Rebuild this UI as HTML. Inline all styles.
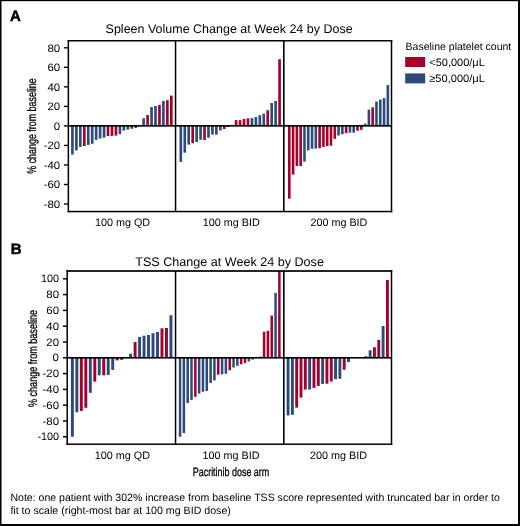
<!DOCTYPE html><html><head><meta charset="utf-8"><style>
html,body{margin:0;padding:0;background:#fff;}
svg{display:block;will-change:transform;}
text{font-family:"Liberation Sans",sans-serif;fill:#000;text-rendering:geometricPrecision;}
</style></head><body>
<svg width="520" height="526" viewBox="0 0 520 526">
<rect x="0" y="0" width="520" height="526" fill="#fff"/>
<text x="9.9" y="20.6" font-size="15.0" font-weight="bold" stroke="#000" stroke-width="0.5">A</text>
<text x="10.7" y="253.6" font-size="15.0" font-weight="bold" stroke="#000" stroke-width="0.5">B</text>
<text x="229.1" y="33.4" font-size="12.5" text-anchor="middle" textLength="247" lengthAdjust="spacingAndGlyphs">Spleen Volume Change at Week 24 by Dose</text>
<text x="229.6" y="266.1" font-size="12.5" text-anchor="middle" textLength="188.6" lengthAdjust="spacingAndGlyphs">TSS Change at Week 24 by Dose</text>
<rect x="71.10" y="125.90" width="2.65" height="28.60" fill="#2D4A7D"/>
<rect x="75.06" y="125.90" width="2.65" height="24.50" fill="#2D4A7D"/>
<rect x="79.01" y="125.90" width="2.65" height="21.00" fill="#2D4A7D"/>
<rect x="82.97" y="125.90" width="2.65" height="20.10" fill="#A3002B"/>
<rect x="86.92" y="125.90" width="2.65" height="19.00" fill="#2D4A7D"/>
<rect x="90.88" y="125.90" width="2.65" height="17.90" fill="#2D4A7D"/>
<rect x="94.84" y="125.90" width="2.65" height="13.90" fill="#2D4A7D"/>
<rect x="98.79" y="125.90" width="2.65" height="12.60" fill="#2D4A7D"/>
<rect x="102.75" y="125.90" width="2.65" height="11.80" fill="#2D4A7D"/>
<rect x="106.70" y="125.90" width="2.65" height="10.10" fill="#A3002B"/>
<rect x="110.66" y="125.90" width="2.65" height="10.00" fill="#A3002B"/>
<rect x="114.62" y="125.90" width="2.65" height="9.70" fill="#A3002B"/>
<rect x="118.57" y="125.90" width="2.65" height="8.20" fill="#2D4A7D"/>
<rect x="122.53" y="125.90" width="2.65" height="4.70" fill="#2D4A7D"/>
<rect x="126.48" y="125.90" width="2.65" height="3.70" fill="#2D4A7D"/>
<rect x="130.44" y="125.90" width="2.65" height="2.80" fill="#A3002B"/>
<rect x="134.40" y="125.90" width="2.65" height="2.20" fill="#2D4A7D"/>
<rect x="142.31" y="118.30" width="2.65" height="7.60" fill="#2D4A7D"/>
<rect x="146.26" y="115.00" width="2.65" height="10.90" fill="#A3002B"/>
<rect x="150.22" y="107.00" width="2.65" height="18.90" fill="#2D4A7D"/>
<rect x="154.18" y="106.00" width="2.65" height="19.90" fill="#2D4A7D"/>
<rect x="158.13" y="104.90" width="2.65" height="21.00" fill="#A3002B"/>
<rect x="162.09" y="100.90" width="2.65" height="25.00" fill="#2D4A7D"/>
<rect x="166.04" y="100.20" width="2.65" height="25.70" fill="#A3002B"/>
<rect x="170.00" y="95.60" width="2.65" height="30.30" fill="#A3002B"/>
<rect x="179.50" y="125.90" width="2.65" height="36.00" fill="#2D4A7D"/>
<rect x="183.45" y="125.90" width="2.65" height="26.80" fill="#2D4A7D"/>
<rect x="187.40" y="125.90" width="2.65" height="18.70" fill="#2D4A7D"/>
<rect x="191.35" y="125.90" width="2.65" height="17.30" fill="#A3002B"/>
<rect x="195.30" y="125.90" width="2.65" height="16.20" fill="#2D4A7D"/>
<rect x="199.25" y="125.90" width="2.65" height="13.90" fill="#2D4A7D"/>
<rect x="203.20" y="125.90" width="2.65" height="14.10" fill="#A3002B"/>
<rect x="207.15" y="125.90" width="2.65" height="11.80" fill="#2D4A7D"/>
<rect x="211.10" y="125.90" width="2.65" height="8.70" fill="#2D4A7D"/>
<rect x="215.05" y="125.90" width="2.65" height="8.70" fill="#2D4A7D"/>
<rect x="219.00" y="125.90" width="2.65" height="4.60" fill="#2D4A7D"/>
<rect x="222.95" y="125.90" width="2.65" height="3.10" fill="#A3002B"/>
<rect x="226.90" y="125.90" width="2.65" height="1.10" fill="#A3002B"/>
<rect x="234.80" y="120.10" width="2.65" height="5.80" fill="#A3002B"/>
<rect x="238.75" y="120.10" width="2.65" height="5.80" fill="#A3002B"/>
<rect x="242.70" y="119.00" width="2.65" height="6.90" fill="#A3002B"/>
<rect x="246.65" y="118.30" width="2.65" height="7.60" fill="#A3002B"/>
<rect x="250.60" y="118.10" width="2.65" height="7.80" fill="#2D4A7D"/>
<rect x="254.55" y="117.10" width="2.65" height="8.80" fill="#2D4A7D"/>
<rect x="258.50" y="115.20" width="2.65" height="10.70" fill="#2D4A7D"/>
<rect x="262.45" y="113.70" width="2.65" height="12.20" fill="#2D4A7D"/>
<rect x="266.40" y="110.20" width="2.65" height="15.70" fill="#A3002B"/>
<rect x="270.35" y="103.00" width="2.65" height="22.90" fill="#2D4A7D"/>
<rect x="274.30" y="101.00" width="2.65" height="24.90" fill="#2D4A7D"/>
<rect x="278.25" y="59.20" width="2.65" height="66.70" fill="#A3002B"/>
<rect x="288.00" y="125.90" width="2.60" height="72.80" fill="#A3002B"/>
<rect x="291.79" y="125.90" width="2.60" height="48.70" fill="#A3002B"/>
<rect x="295.58" y="125.90" width="2.60" height="40.10" fill="#A3002B"/>
<rect x="299.37" y="125.90" width="2.60" height="40.10" fill="#A3002B"/>
<rect x="303.16" y="125.90" width="2.60" height="35.70" fill="#2D4A7D"/>
<rect x="306.95" y="125.90" width="2.60" height="24.50" fill="#2D4A7D"/>
<rect x="310.74" y="125.90" width="2.60" height="22.90" fill="#2D4A7D"/>
<rect x="314.53" y="125.90" width="2.60" height="22.70" fill="#2D4A7D"/>
<rect x="318.32" y="125.90" width="2.60" height="22.30" fill="#A3002B"/>
<rect x="322.11" y="125.90" width="2.60" height="21.10" fill="#A3002B"/>
<rect x="325.90" y="125.90" width="2.60" height="20.20" fill="#A3002B"/>
<rect x="329.69" y="125.90" width="2.60" height="19.80" fill="#A3002B"/>
<rect x="333.48" y="125.90" width="2.60" height="12.90" fill="#A3002B"/>
<rect x="337.27" y="125.90" width="2.60" height="9.60" fill="#2D4A7D"/>
<rect x="341.06" y="125.90" width="2.60" height="8.30" fill="#2D4A7D"/>
<rect x="344.85" y="125.90" width="2.60" height="7.30" fill="#A3002B"/>
<rect x="348.64" y="125.90" width="2.60" height="6.80" fill="#2D4A7D"/>
<rect x="352.43" y="125.90" width="2.60" height="6.80" fill="#2D4A7D"/>
<rect x="356.22" y="125.90" width="2.60" height="4.80" fill="#A3002B"/>
<rect x="360.01" y="125.90" width="2.60" height="3.90" fill="#A3002B"/>
<rect x="363.80" y="123.60" width="2.60" height="2.30" fill="#2D4A7D"/>
<rect x="367.59" y="109.60" width="2.60" height="16.30" fill="#2D4A7D"/>
<rect x="371.38" y="107.30" width="2.60" height="18.60" fill="#A3002B"/>
<rect x="375.17" y="101.50" width="2.60" height="24.40" fill="#2D4A7D"/>
<rect x="378.96" y="99.60" width="2.60" height="26.30" fill="#2D4A7D"/>
<rect x="382.75" y="98.10" width="2.60" height="27.80" fill="#2D4A7D"/>
<rect x="386.54" y="85.00" width="2.60" height="40.90" fill="#2D4A7D"/>
<rect x="67.60" y="40.00" width="324.65" height="1.50" fill="#000"/>
<rect x="67.60" y="210.80" width="324.65" height="1.50" fill="#000"/>
<rect x="67.60" y="40.00" width="1.50" height="172.30" fill="#000"/>
<rect x="390.75" y="40.00" width="1.50" height="172.30" fill="#000"/>
<rect x="174.80" y="40.75" width="1.50" height="170.80" fill="#000"/>
<rect x="283.00" y="40.75" width="1.60" height="170.80" fill="#000"/>
<rect x="68.35" y="125.05" width="323.15" height="1.60" fill="#000"/>
<rect x="63.90" y="203.33" width="4.45" height="1.35" fill="#000"/>
<text transform="translate(60.2,207.75) scale(1.06,1)" font-size="10.8" text-anchor="end">-80</text>
<rect x="63.90" y="183.80" width="4.45" height="1.35" fill="#000"/>
<text transform="translate(60.2,188.23) scale(1.06,1)" font-size="10.8" text-anchor="end">-60</text>
<rect x="63.90" y="164.28" width="4.45" height="1.35" fill="#000"/>
<text transform="translate(60.2,168.70) scale(1.06,1)" font-size="10.8" text-anchor="end">-40</text>
<rect x="63.90" y="144.75" width="4.45" height="1.35" fill="#000"/>
<text transform="translate(60.2,149.18) scale(1.06,1)" font-size="10.8" text-anchor="end">-20</text>
<rect x="63.90" y="125.23" width="4.45" height="1.35" fill="#000"/>
<text transform="translate(60.2,129.65) scale(1.06,1)" font-size="10.8" text-anchor="end">0</text>
<rect x="63.90" y="105.70" width="4.45" height="1.35" fill="#000"/>
<text transform="translate(60.2,110.12) scale(1.06,1)" font-size="10.8" text-anchor="end">20</text>
<rect x="63.90" y="86.17" width="4.45" height="1.35" fill="#000"/>
<text transform="translate(60.2,90.60) scale(1.06,1)" font-size="10.8" text-anchor="end">40</text>
<rect x="63.90" y="66.65" width="4.45" height="1.35" fill="#000"/>
<text transform="translate(60.2,71.07) scale(1.06,1)" font-size="10.8" text-anchor="end">60</text>
<rect x="63.90" y="47.12" width="4.45" height="1.35" fill="#000"/>
<text transform="translate(60.2,51.55) scale(1.06,1)" font-size="10.8" text-anchor="end">80</text>
<rect x="70.90" y="357.80" width="2.95" height="79.00" fill="#2D4A7D"/>
<rect x="75.38" y="357.80" width="2.95" height="54.50" fill="#2D4A7D"/>
<rect x="79.86" y="357.80" width="2.95" height="53.20" fill="#A3002B"/>
<rect x="84.34" y="357.80" width="2.95" height="50.00" fill="#A3002B"/>
<rect x="88.82" y="357.80" width="2.95" height="35.00" fill="#2D4A7D"/>
<rect x="93.30" y="357.80" width="2.95" height="23.80" fill="#A3002B"/>
<rect x="97.78" y="357.80" width="2.95" height="17.50" fill="#2D4A7D"/>
<rect x="102.26" y="357.80" width="2.95" height="17.50" fill="#A3002B"/>
<rect x="106.74" y="357.80" width="2.95" height="17.10" fill="#2D4A7D"/>
<rect x="111.22" y="357.80" width="2.95" height="12.10" fill="#2D4A7D"/>
<rect x="115.70" y="357.80" width="2.95" height="2.60" fill="#A3002B"/>
<rect x="120.18" y="357.80" width="2.95" height="2.10" fill="#2D4A7D"/>
<rect x="129.14" y="353.70" width="2.95" height="4.10" fill="#2D4A7D"/>
<rect x="133.62" y="342.10" width="2.95" height="15.70" fill="#A3002B"/>
<rect x="138.10" y="337.00" width="2.95" height="20.80" fill="#2D4A7D"/>
<rect x="142.58" y="335.70" width="2.95" height="22.10" fill="#2D4A7D"/>
<rect x="147.06" y="335.00" width="2.95" height="22.80" fill="#2D4A7D"/>
<rect x="151.54" y="333.20" width="2.95" height="24.60" fill="#2D4A7D"/>
<rect x="156.02" y="332.00" width="2.95" height="25.80" fill="#2D4A7D"/>
<rect x="160.50" y="328.30" width="2.95" height="29.50" fill="#A3002B"/>
<rect x="164.98" y="328.00" width="2.95" height="29.80" fill="#A3002B"/>
<rect x="169.46" y="315.20" width="2.95" height="42.60" fill="#2D4A7D"/>
<rect x="178.80" y="357.80" width="2.50" height="79.00" fill="#2D4A7D"/>
<rect x="182.62" y="357.80" width="2.50" height="75.30" fill="#2D4A7D"/>
<rect x="186.44" y="357.80" width="2.50" height="45.30" fill="#2D4A7D"/>
<rect x="190.26" y="357.80" width="2.50" height="42.10" fill="#2D4A7D"/>
<rect x="194.08" y="357.80" width="2.50" height="39.00" fill="#A3002B"/>
<rect x="197.90" y="357.80" width="2.50" height="35.80" fill="#2D4A7D"/>
<rect x="201.72" y="357.80" width="2.50" height="34.00" fill="#2D4A7D"/>
<rect x="205.54" y="357.80" width="2.50" height="33.20" fill="#2D4A7D"/>
<rect x="209.36" y="357.80" width="2.50" height="25.30" fill="#2D4A7D"/>
<rect x="213.18" y="357.80" width="2.50" height="22.60" fill="#2D4A7D"/>
<rect x="217.00" y="357.80" width="2.50" height="16.90" fill="#A3002B"/>
<rect x="220.82" y="357.80" width="2.50" height="16.50" fill="#2D4A7D"/>
<rect x="224.64" y="357.80" width="2.50" height="16.00" fill="#2D4A7D"/>
<rect x="228.46" y="357.80" width="2.50" height="12.50" fill="#A3002B"/>
<rect x="232.28" y="357.80" width="2.50" height="9.70" fill="#2D4A7D"/>
<rect x="236.10" y="357.80" width="2.50" height="8.00" fill="#2D4A7D"/>
<rect x="239.92" y="357.80" width="2.50" height="6.50" fill="#A3002B"/>
<rect x="243.74" y="357.80" width="2.50" height="5.30" fill="#A3002B"/>
<rect x="247.56" y="357.80" width="2.50" height="3.70" fill="#2D4A7D"/>
<rect x="251.38" y="357.80" width="2.50" height="1.80" fill="#2D4A7D"/>
<rect x="259.02" y="356.70" width="2.50" height="1.10" fill="#A3002B"/>
<rect x="262.84" y="331.70" width="2.50" height="26.10" fill="#A3002B"/>
<rect x="266.66" y="330.80" width="2.50" height="27.00" fill="#A3002B"/>
<rect x="270.48" y="315.60" width="2.50" height="42.20" fill="#A3002B"/>
<rect x="274.30" y="292.90" width="2.50" height="64.90" fill="#2D4A7D"/>
<rect x="278.12" y="271.00" width="2.50" height="86.80" fill="#A3002B"/>
<rect x="286.60" y="357.80" width="2.90" height="57.60" fill="#2D4A7D"/>
<rect x="290.92" y="357.80" width="2.90" height="57.00" fill="#2D4A7D"/>
<rect x="295.24" y="357.80" width="2.90" height="49.80" fill="#A3002B"/>
<rect x="299.56" y="357.80" width="2.90" height="39.80" fill="#A3002B"/>
<rect x="303.88" y="357.80" width="2.90" height="31.70" fill="#A3002B"/>
<rect x="308.20" y="357.80" width="2.90" height="31.70" fill="#2D4A7D"/>
<rect x="312.52" y="357.80" width="2.90" height="30.10" fill="#A3002B"/>
<rect x="316.84" y="357.80" width="2.90" height="28.10" fill="#A3002B"/>
<rect x="321.16" y="357.80" width="2.90" height="26.10" fill="#2D4A7D"/>
<rect x="325.48" y="357.80" width="2.90" height="25.90" fill="#A3002B"/>
<rect x="329.80" y="357.80" width="2.90" height="23.80" fill="#A3002B"/>
<rect x="334.12" y="357.80" width="2.90" height="21.40" fill="#2D4A7D"/>
<rect x="338.44" y="357.80" width="2.90" height="21.00" fill="#2D4A7D"/>
<rect x="342.76" y="357.80" width="2.90" height="11.90" fill="#A3002B"/>
<rect x="347.08" y="357.80" width="2.90" height="4.30" fill="#2D4A7D"/>
<rect x="364.36" y="356.20" width="2.90" height="1.60" fill="#2D4A7D"/>
<rect x="368.68" y="350.30" width="2.90" height="7.50" fill="#2D4A7D"/>
<rect x="373.00" y="347.30" width="2.90" height="10.50" fill="#A3002B"/>
<rect x="377.32" y="339.90" width="2.90" height="17.90" fill="#A3002B"/>
<rect x="381.64" y="326.00" width="2.90" height="31.80" fill="#2D4A7D"/>
<rect x="385.96" y="279.90" width="2.90" height="77.90" fill="#A3002B"/>
<rect x="66.45" y="270.15" width="325.80" height="1.70" fill="#000"/>
<rect x="66.45" y="443.45" width="325.80" height="1.50" fill="#000"/>
<rect x="66.45" y="270.15" width="1.50" height="174.80" fill="#000"/>
<rect x="390.75" y="270.15" width="1.50" height="174.80" fill="#000"/>
<rect x="174.80" y="271.00" width="1.50" height="173.20" fill="#000"/>
<rect x="283.00" y="271.00" width="1.60" height="173.20" fill="#000"/>
<rect x="67.20" y="357.00" width="324.30" height="1.60" fill="#000"/>
<rect x="62.90" y="436.07" width="4.30" height="1.45" fill="#000"/>
<text transform="translate(59.0,440.30) scale(1.0,1)" font-size="10.8" text-anchor="end">-100</text>
<rect x="62.90" y="420.27" width="4.30" height="1.45" fill="#000"/>
<text transform="translate(59.0,424.50) scale(1.06,1)" font-size="10.8" text-anchor="end">-80</text>
<rect x="62.90" y="404.48" width="4.30" height="1.45" fill="#000"/>
<text transform="translate(59.0,408.70) scale(1.06,1)" font-size="10.8" text-anchor="end">-60</text>
<rect x="62.90" y="388.68" width="4.30" height="1.45" fill="#000"/>
<text transform="translate(59.0,392.90) scale(1.06,1)" font-size="10.8" text-anchor="end">-40</text>
<rect x="62.90" y="372.88" width="4.30" height="1.45" fill="#000"/>
<text transform="translate(59.0,377.10) scale(1.06,1)" font-size="10.8" text-anchor="end">-20</text>
<rect x="62.90" y="357.07" width="4.30" height="1.45" fill="#000"/>
<text transform="translate(59.0,361.30) scale(1.06,1)" font-size="10.8" text-anchor="end">0</text>
<rect x="62.90" y="341.27" width="4.30" height="1.45" fill="#000"/>
<text transform="translate(59.0,345.50) scale(1.06,1)" font-size="10.8" text-anchor="end">20</text>
<rect x="62.90" y="325.47" width="4.30" height="1.45" fill="#000"/>
<text transform="translate(59.0,329.70) scale(1.06,1)" font-size="10.8" text-anchor="end">40</text>
<rect x="62.90" y="309.67" width="4.30" height="1.45" fill="#000"/>
<text transform="translate(59.0,313.90) scale(1.06,1)" font-size="10.8" text-anchor="end">60</text>
<rect x="62.90" y="293.88" width="4.30" height="1.45" fill="#000"/>
<text transform="translate(59.0,298.10) scale(1.06,1)" font-size="10.8" text-anchor="end">80</text>
<rect x="62.90" y="278.07" width="4.30" height="1.45" fill="#000"/>
<text transform="translate(59.0,282.30) scale(1.0,1)" font-size="10.8" text-anchor="end">100</text>
<text x="122.5" y="225.7" font-size="10.8" text-anchor="middle">100 mg QD</text>
<text x="231.2" y="225.7" font-size="10.8" text-anchor="middle">100 mg BID</text>
<text x="338.9" y="225.7" font-size="10.8" text-anchor="middle">200 mg BID</text>
<text x="122.4" y="458.5" font-size="10.8" text-anchor="middle">100 mg QD</text>
<text x="231.0" y="458.5" font-size="10.8" text-anchor="middle">100 mg BID</text>
<text x="338.5" y="458.5" font-size="10.8" text-anchor="middle">200 mg BID</text>
<text x="231" y="475.8" font-size="12" stroke="#000" stroke-width="0.3" text-anchor="middle" textLength="76.5" lengthAdjust="spacingAndGlyphs">Pacritinib dose arm</text>
<text transform="translate(36.1,126) rotate(-90)" x="0" y="0" font-size="12.4" stroke="#000" stroke-width="0.3" text-anchor="middle" textLength="95.5" lengthAdjust="spacingAndGlyphs">% change from baseline</text>
<text transform="translate(36.6,358.5) rotate(-90)" x="0" y="0" font-size="12.4" stroke="#000" stroke-width="0.3" text-anchor="middle" textLength="97" lengthAdjust="spacingAndGlyphs">% change from baseline</text>
<text x="405.6" y="50.3" font-size="10.5">Baseline platelet count</text>
<rect x="405.2" y="57" width="20" height="10" fill="#A3002B"/>
<rect x="405.2" y="73.4" width="20" height="10" fill="#2D4A7D"/>
<text x="429.3" y="65.8" font-size="10.8" textLength="55.5" lengthAdjust="spacingAndGlyphs">&lt;50,000/&#956;L</text>
<text x="429.3" y="82.2" font-size="10.8" textLength="55.5" lengthAdjust="spacingAndGlyphs">&#8805;50,000/&#956;L</text>
<text x="10.4" y="500.9" font-size="10.6" textLength="489.5" lengthAdjust="spacingAndGlyphs">Note: one patient with 302% increase from baseline TSS score represented with truncated bar in order to</text>
<text x="10.4" y="514.1" font-size="10.6" textLength="220.5" lengthAdjust="spacingAndGlyphs">fit to scale (right-most bar at 100 mg BID dose)</text>
<rect x="0" y="0" width="520" height="1" fill="#000"/>
<rect x="0" y="1" width="520" height="0.2" fill="#000"/>
<rect x="0" y="0" width="1.5" height="526" fill="#000"/>
<rect x="518" y="0" width="2" height="526" fill="#000"/>
<rect x="0" y="524" width="520" height="2" fill="#000"/>
</svg></body></html>
